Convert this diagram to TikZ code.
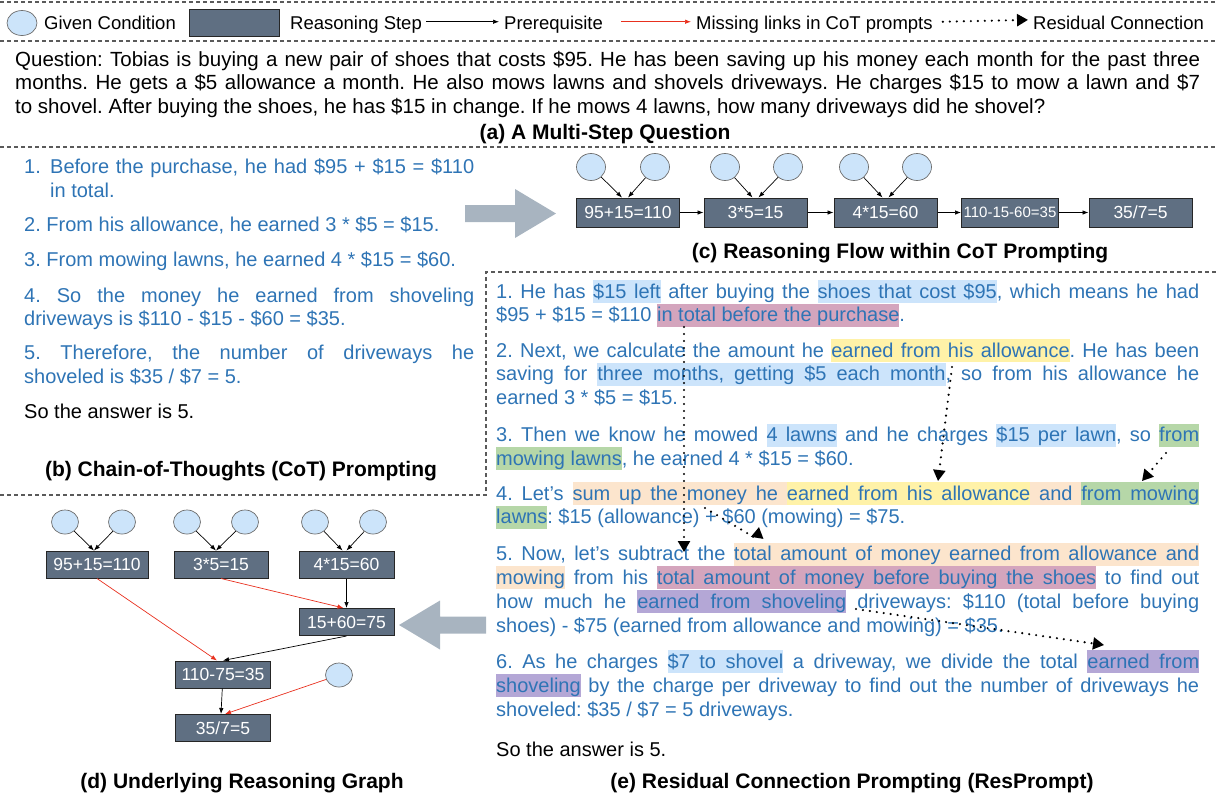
\documentclass[tikz,border=0pt]{standalone}
\usepackage{fontspec}
\setmainfont{Liberation Sans}
\usetikzlibrary{arrows.meta, shapes.geometric, positioning}
\frenchspacing

\definecolor{textblue}{RGB}{46,116,181}
\definecolor{condfill}{RGB}{204,228,250}
\definecolor{condline}{RGB}{110,110,110}
\definecolor{stepfill}{RGB}{95,111,130}
\definecolor{missred}{RGB}{232,48,30}
\definecolor{sepgray}{RGB}{90,90,90}
\definecolor{bigarrow}{RGB}{168,180,192}
\definecolor{hlblue}{RGB}{204,228,251}
\definecolor{hlpink}{RGB}{212,165,189}
\definecolor{hlyellow}{RGB}{255,242,168}
\definecolor{hlgreen}{RGB}{182,215,168}
\definecolor{hlpeach}{RGB}{252,229,205}
\definecolor{hlpurple}{RGB}{180,167,214}

\newcommand\bodyfont{\fontsize{20}{24}\selectfont}
\newcommand\qfont{\fontsize{20.5}{24}\selectfont}
\newcommand\legfont{\fontsize{18.5}{22}\selectfont}
\newcommand\boxfont{\fontsize{17.5}{20}\selectfont}
\newcommand\smallboxfont{\fontsize{15}{18}\selectfont}
\newcommand\capfont{\fontsize{21}{24}\selectfont\bfseries}

% highlighted words, with highlighted (stretchable) spaces between them
\newlength\hlht \setlength\hlht{18pt}
\newlength\hldp \setlength\hldp{5pt}
\newcommand\hlbox[2]{{\setlength\fboxsep{0pt}\colorbox{#1}{\vrule height\hlht depth\hldp width0pt #2}}}
\newcommand\hlsp[1]{{\color{#1}\leaders\hrule height\hlht depth\hldp\hskip\fontdimen2\font plus\fontdimen3\font minus\fontdimen4\font}}
\makeatletter
\newcommand\hl[2]{\def\hl@col{#1}\hl@word#2 \hl@stop}
\def\hl@word#1 #2\hl@stop{\hlbox{\hl@col}{#1}\if\relax\detokenize{#2}\relax\else\hlsp{\hl@col}\hl@word#2\hl@stop\fi}
\makeatother

\begin{document}
\frenchspacing
\begin{tikzpicture}[x=1pt, y=-1pt,
  cond/.style={ellipse, draw=condline, fill=condfill, line width=0.7pt,
    minimum width=27pt, minimum height=24pt, inner sep=0pt},
  stepbox/.style={rectangle, draw=black!85, line width=1pt, fill=stepfill,
    text=white, font=\boxfont, minimum width=95pt, minimum height=27pt, inner sep=0pt},
  prereq/.style={-{Latex[length=6pt,width=4.5pt]}, line width=0.7pt},
  missing/.style={prereq, draw=missred},
  resid/.style={-{Triangle[length=11pt,width=12pt]}, line width=2.4pt,
    dash pattern=on 0pt off 7pt, line cap=round},
  dashsep/.style={draw=sepgray, line width=1.2pt, dash pattern=on 4pt off 3pt},
  leg/.style={anchor=base west, inner sep=0pt, font=\legfont},
  txt/.style={anchor=base west, inner sep=0pt, font=\bodyfont, text=textblue},
  qtxt/.style={anchor=base west, inner sep=0pt, font=\qfont},
  panelcap/.style={anchor=base, inner sep=0pt, font=\capfont},
]
\useasboundingbox (0,0) rectangle (1217,796);

% separators
\draw[dashsep] (0,2) -- (1217,2);
\draw[dashsep] (0,41) -- (1217,41);
\draw[dashsep] (0,147) -- (1217,147);
\draw[dashsep] (0,495) -- (486,495) -- (486,272) -- (1217,272);

% legend
\node[cond, minimum width=30pt, minimum height=25pt] (lgc) at (22,23) {};
\node[leg] (lgct) at (44,29.5) {Given Condition};
\node[stepbox, minimum width=90pt] (lgs) at (234,22.5) {};
\node[leg] (lgst) at (290,29.5) {Reasoning Step};
\node[leg] (lgpt) at (504,29.5) {Prerequisite};
\node[leg] (lgmt) at (696,29.5) {Missing links in CoT prompts};
\node[leg] (lgrt) at (1033,29.5) {Residual Connection};
\draw[prereq] ([xshift=4pt,yshift=3pt]lgst.east) -- ([xshift=-5pt,yshift=3pt]lgpt.west);
\draw[missing] ([xshift=-75pt,yshift=3pt]lgmt.west) -- ([xshift=-5pt,yshift=3pt]lgmt.west);
\draw[resid] ([xshift=10pt,yshift=3pt]lgmt.east) -- ([xshift=-5pt,yshift=3pt]lgrt.west);

% (a) question
\node[qtxt] (q1) at (15,66) {\makebox[1185pt][s]{Question: Tobias is buying a new pair of shoes that costs \$95. He has been saving up his money each month for the past three}};
\node[qtxt] (q2) at (15,89.5) {\makebox[1185pt][s]{months. He gets a \$5 allowance a month. He also mows lawns and shovels driveways. He charges \$15 to mow a lawn and \$7}};
\node[qtxt] (q3) at (15,113) {to shovel. After buying the shoes, he has \$15 in change. If he mows 4 lawns, how many driveways did he shovel?};
\node[panelcap] (capa) at (605,139) {(a) A Multi-Step Question};

% (b) chain of thoughts
\node[txt] (b1) at (24,173) {\makebox[26pt][l]{1.}\makebox[424pt][s]{Before the purchase, he had \$95 + \$15 = \$110}};
\node[txt] (b1b) at (50,197) {in total.};
\node[txt] (b2) at (24,231) {2. From his allowance, he earned 3 * \$5 = \$15.};
\node[txt] (b3) at (24,266) {3. From mowing lawns, he earned 4 * \$15 = \$60.};
\node[txt] (b4) at (24,302) {\makebox[450pt][s]{4. So the money he earned from shoveling}};
\node[txt] (b4b) at (24,325) {driveways is \$110 - \$15 - \$60 = \$35.};
\node[txt] (b5) at (24,359) {\makebox[450pt][s]{5. Therefore, the number of driveways he}};
\node[txt] (b5b) at (24,383) {shoveled is \$35 / \$7 = 5.};
\node[txt, text=black] (b6) at (24,418) {So the answer is 5.};
\node[panelcap] (capb) at (241,476) {(b) Chain-of-Thoughts (CoT) Prompting};

% big arrows between panels
\fill[bigarrow] (465,205) -- (515,205) -- (515,189) -- (556,213.5) -- (515,238)
  -- (515,222) -- (465,222) -- cycle;
\fill[bigarrow] (486,616.5) -- (440,616.5) -- (440,600.5) -- (399,625) -- (440,649.5)
  -- (440,633.5) -- (486,633.5) -- cycle;

% (c) reasoning flow
\node[stepbox, minimum width=103pt, minimum height=29pt] (c1) at (628,212.5) {95+15=110};
\node[stepbox, minimum width=103pt, minimum height=29pt] (c2) at (755.5,212.5) {3*5=15};
\node[stepbox, minimum width=103pt, minimum height=29pt] (c3) at (885.5,212.5) {4*15=60};
\node[stepbox, minimum width=97pt, minimum height=29pt, font=\smallboxfont] (c4) at (1010,212.5) {110-15-60=35};
\node[stepbox, minimum width=103pt, minimum height=29pt] (c5) at (1140.5,212.5) {35/7=5};
\node[cond, minimum width=29pt, minimum height=27pt] (c1a) at (591,167) {};
\node[cond, minimum width=29pt, minimum height=27pt] (c1b) at (655,167) {};
\node[cond, minimum width=29pt, minimum height=27pt] (c2a) at (725,167) {};
\node[cond, minimum width=29pt, minimum height=27pt] (c2b) at (788,167) {};
\node[cond, minimum width=29pt, minimum height=27pt] (c3a) at (854,167) {};
\node[cond, minimum width=29pt, minimum height=27pt] (c3b) at (917,167) {};
\draw[prereq] (c1a) -- ([xshift=-6pt]c1.north);
\draw[prereq] (c1b) -- ([xshift=0pt]c1.north);
\draw[prereq] (c2a) -- ([xshift=-3pt]c2.north);
\draw[prereq] (c2b) -- ([xshift=3pt]c2.north);
\draw[prereq] (c3a) -- ([xshift=-3pt]c3.north);
\draw[prereq] (c3b) -- ([xshift=3pt]c3.north);
\draw[prereq] (c1) -- (c2);
\draw[prereq] (c2) -- (c3);
\draw[prereq] (c3) -- (c4);
\draw[prereq] (c4) -- (c5);
\node[panelcap] (capc) at (900,258) {(c) Reasoning Flow within CoT Prompting};

% (d) underlying reasoning graph
\node[stepbox, minimum width=102pt] (d1) at (97,564.5) {95+15=110};
\node[stepbox, minimum width=94pt] (d2) at (221,564.5) {3*5=15};
\node[stepbox] (d3) at (346.5,564.5) {4*15=60};
\node[stepbox] (d4) at (346.5,622) {15+60=75};
\node[stepbox] (d5) at (223,674.5) {110-75=35};
\node[stepbox] (d6) at (223,728) {35/7=5};
\node[cond] (d1a) at (65,522) {};
\node[cond] (d1b) at (122,522) {};
\node[cond] (d2a) at (187,522) {};
\node[cond] (d2b) at (245,522) {};
\node[cond] (d3a) at (315,522) {};
\node[cond] (d3b) at (373,522) {};
\node[cond] (d5a) at (339,675) {};
\draw[prereq] (d1a) -- ([xshift=-3pt]d1.north);
\draw[prereq] (d1b) -- ([xshift=-3pt]d1.north);
\draw[prereq] (d2a) -- ([xshift=-5pt]d2.north);
\draw[prereq] (d2b) -- ([xshift=-5pt]d2.north);
\draw[prereq] (d3a) -- ([xshift=-4pt]d3.north);
\draw[prereq] (d3b) -- ([xshift=0pt]d3.north);
\draw[prereq] (d3) -- (d4);
\draw[prereq] (d4.south) -- (d5.north);
\draw[prereq] (d5) -- ([xshift=-2pt]d6.north);
\draw[missing] (d1.south) -- ([xshift=-6pt]d5.north);
\draw[missing] (d2.south) -- ([xshift=-3pt]d4.north);
\draw[missing] (d5a) -- ([xshift=2pt]d6.north);
\node[panelcap] (capd) at (242,788) {(d) Underlying Reasoning Graph};

% (e) residual connection prompting
\node[txt] (e1) at (496,298.3) {\makebox[703pt][s]{1. He has \hl{hlblue}{\$15 left} after buying the \hl{hlblue}{shoes that cost \$95}, which means he had}};
\node[txt] (e2) at (496,321.7) {\$95 + \$15 = \$110 \hl{hlpink}{in total before the purchase}.};
\node[txt] (e3) at (496,357.3) {\makebox[703pt][s]{2. Next, we calculate the amount he \hl{hlyellow}{earned from his allowance}. He has been}};
\node[txt] (e4) at (496,380.8) {\makebox[703pt][s]{saving for \hl{hlblue}{three months, getting \$5 each month}, so from his allowance he}};
\node[txt] (e5) at (496,404.3) {earned 3 * \$5 = \$15.};
\node[txt] (e6) at (496,441.7) {\makebox[703pt][s]{3. Then we know he mowed \hl{hlblue}{4 lawns} and he charges \hl{hlblue}{\$15 per lawn}, so \hl{hlgreen}{from}}};
\node[txt] (e7) at (496,465.2) {\hl{hlgreen}{mowing lawns}, he earned 4 * \$15 = \$60.};
\node[txt] (e8) at (496,500.3) {\makebox[703pt][s]{4. Let’s \hl{hlpeach}{sum up the money he}\hlsp{hlpeach}\hl{hlyellow}{earned from his allowance}\hlsp{hlpeach}\hl{hlpeach}{and}\hlsp{hlpeach}\hl{hlgreen}{from mowing}}};
\node[txt] (e9) at (496,523.8) {\hl{hlgreen}{lawns}: \$15 (allowance) + \$60 (mowing) = \$75.};
\node[txt] (e10) at (496,560.7) {\makebox[703pt][s]{5. Now, let's subtract the \hl{hlpeach}{total amount of money earned from allowance and}}};
\node[txt] (e11) at (496,584.3) {\makebox[703pt][s]{\hl{hlpeach}{mowing} from his \hl{hlpink}{total amount of money before buying the shoes} to find out}};
\node[txt] (e12) at (496,608.2) {\makebox[703pt][s]{how much he \hl{hlpurple}{earned from shoveling} driveways: \$110 (total before buying}};
\node[txt] (e13) at (496,632) {shoes) - \$75 (earned from allowance and mowing) = \$35.};
\node[txt] (e14) at (496,668.3) {\makebox[703pt][s]{6. As he charges \hl{hlblue}{\$7 to shovel} a driveway, we divide the total \hl{hlpurple}{earned from}}};
\node[txt] (e15) at (496,692.2) {\makebox[703pt][s]{\hl{hlpurple}{shoveling} by the charge per driveway to find out the number of driveways he}};
\node[txt] (e16) at (496,716) {shoveled: \$35 / \$7 = 5 driveways.};
\node[txt, text=black] (e17) at (496,756) {So the answer is 5.};
\node[panelcap] (cape) at (852,788) {(e) Residual Connection Prompting (ResPrompt)};

% residual connections
\coordinate (r1a) at (684,327);
\coordinate (r1b) at (684,552);
\coordinate (r2a) at (952,367);
\coordinate (r2b) at (938,481);
\coordinate (r3a) at (1166,453);
\coordinate (r3b) at (1142,481);
\coordinate (r4a) at (705,508);
\coordinate (r4m) at (757,539);
\coordinate (r4b) at (759,527);
\coordinate (r5a) at (856,609);
\coordinate (r5b) at (1104,645);
\draw[resid] (r1a) -- (r1b);
\draw[resid] (r2a) -- (r2b);
\draw[resid] (r3a) -- (r3b);
\draw[resid] (r4a) -- (r4m) -- (r4b);
\draw[resid] (r5a) -- (r5b);
\end{tikzpicture}
\end{document}
